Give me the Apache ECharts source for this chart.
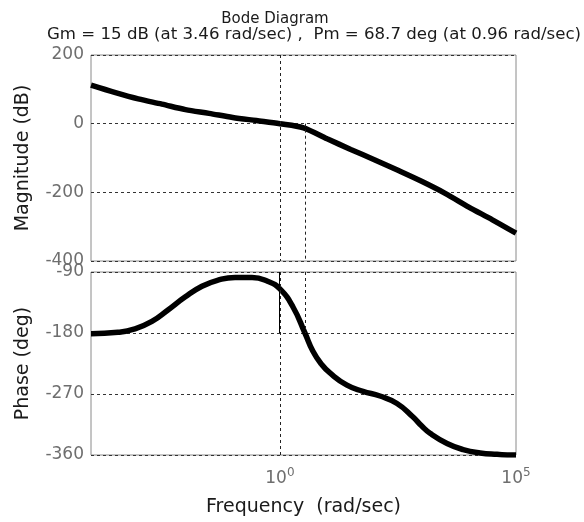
<!DOCTYPE html>
<html>
<head>
<meta charset="utf-8">
<script src="https://cdn.jsdelivr.net/npm/echarts@6/dist/echarts.min.js"></script>
<style>
  html, body { margin: 0; padding: 0; background: #fff; }
  #chart { width: 584px; height: 522px; }
</style>
</head>
<body>
<div id="chart"></div>
<script>
// frequency is stored as log10(rad/sec), the x axis runs 10^-4 .. 10^5
const magExp = [-4, -3.5, -3, -2.5, -2, -1.5, -1, -0.5, 0, 0.5, 1, 1.5, 2, 2.5, 3, 3.5, 4, 4.5, 5];
const magDb = [112, 91, 72, 57, 41, 30, 18, 9, 0, -12, -44, -75, -105, -136, -168, -203, -243, -280, -319];

const phaseExp = [-4, -3.43, -3.07, -2.71, -2.37, -2.01, -1.65, -1.31, -0.95, -0.59, -0.25, 0, 0.28, 0.53, 0.7, 0.88, 1.06, 1.42, 1.76, 2.12, 2.48, 2.82, 3.0, 3.18, 3.54, 3.88, 4.24, 4.6, 4.94, 5];
const phaseDeg = [-181, -179, -174, -163, -146, -127, -111, -102, -98, -98, -104, -115, -142, -180, -207, -226, -239, -257, -266, -273, -284, -304, -317, -328, -343, -352, -357, -359, -360, -360];

const magTicks = [-400, -200, 0, 200];
const phaseTicks = [-360, -270, -180, -90];
const freqLabels = [0, 5];   // exponents that get a "10^n" label

const gmExp = Math.log10(3.46);
const pmExp = Math.log10(0.96);

const titleText = 'Bode Diagram';
const subText = 'Gm = 15 dB (at 3.46 rad/sec) ,  Pm = 68.7 deg (at 0.96 rad/sec)';

const FONT = 'DejaVu Sans';
const tickColor = '#6e6e6e';
const nameColor = '#1a1a1a';

const chart = echarts.init(document.getElementById('chart'));

function xAxisFor(gridIndex, showLabels) {
    return {
        type: 'value', gridIndex: gridIndex,
        min: -4, max: 5, interval: 1,
        axisLine: { show: false }, axisTick: { show: false },
        splitLine: { show: false },
        name: showLabels ? 'Frequency  (rad/sec)' : '',
        nameLocation: 'middle', nameGap: 43,
        nameTextStyle: { fontFamily: FONT, fontSize: 19, color: nameColor },
        axisLabel: {
            show: showLabels, margin: 12,
            formatter: (v) => freqLabels.includes(v) ? '{b|10}{s|' + v + '}' : '',
            rich: {
                b: { fontFamily: FONT, fontSize: 17, color: tickColor },
                s: { fontFamily: FONT, fontSize: 12, color: tickColor, padding: [0, 0, 12, 0] }
            }
        }
    };
}

function yAxisFor(gridIndex, ticks, name) {
    return {
        type: 'value', gridIndex: gridIndex,
        min: ticks[0], max: ticks[ticks.length - 1], interval: ticks[1] - ticks[0],
        axisLine: { show: false }, axisTick: { show: false },
        axisLabel: { fontFamily: FONT, fontSize: 17, color: tickColor, margin: 7 },
        splitLine: { show: true, lineStyle: { color: '#333', type: [3, 3], width: 1 } },
        name: name, nameLocation: 'middle', nameGap: 58,
        nameTextStyle: { fontFamily: FONT, fontSize: 19, color: nameColor }
    };
}

const dashed = { color: '#222', type: [3, 3], width: 1 };

const option = {
    backgroundColor: '#fff',
    animation: false,
    title: [
        { text: titleText, left: 270, top: 7, textAlign: 'center',
          textStyle: { fontFamily: FONT, fontSize: 15, fontWeight: 'normal', color: nameColor } },
        { text: subText, left: 309, top: 21, textAlign: 'center',
          textStyle: { fontFamily: FONT, fontSize: 16.6, fontWeight: 'normal', color: nameColor } }
    ],
    grid: [
        { left: 91, top: 55, width: 425, height: 206, show: true, borderColor: '#8a8a8a', borderWidth: 1 },
        { left: 91, top: 272, width: 425, height: 183, show: true, borderColor: '#8a8a8a', borderWidth: 1 }
    ],
    xAxis: [xAxisFor(0, false), xAxisFor(1, true)],
    yAxis: [yAxisFor(0, magTicks, 'Magnitude (dB)'), yAxisFor(1, phaseTicks, 'Phase (deg)')],
    series: [
        {
            type: 'line', xAxisIndex: 0, yAxisIndex: 0,
            data: magExp.map((e, i) => [e, magDb[i]]),
            showSymbol: false, smooth: 0.3,
            lineStyle: { color: '#000', width: 5.5 },
            markLine: {
                silent: true, symbol: 'none', label: { show: false },
                data: [
                    [{ coord: [0, 200], lineStyle: dashed }, { coord: [0, -400] }],
                    [{ coord: [gmExp, 0], lineStyle: dashed }, { coord: [gmExp, -400] }]
                ]
            }
        },
        {
            type: 'line', xAxisIndex: 1, yAxisIndex: 1,
            data: phaseExp.map((e, i) => [e, phaseDeg[i]]),
            showSymbol: false, smooth: 0.5,
            lineStyle: { color: '#000', width: 5.5 },
            markLine: {
                silent: true, symbol: 'none', label: { show: false },
                data: [
                    [{ coord: [0, -90], lineStyle: dashed }, { coord: [0, -360] }],
                    [{ coord: [gmExp, -90], lineStyle: dashed }, { coord: [gmExp, -180] }],
                    [{ coord: [pmExp, -90], lineStyle: { color: '#000', type: 'solid', width: 1 } }, { coord: [pmExp, -180] }]
                ]
            }
        }
    ]
};

chart.setOption(option);
</script>
</body>
</html>
